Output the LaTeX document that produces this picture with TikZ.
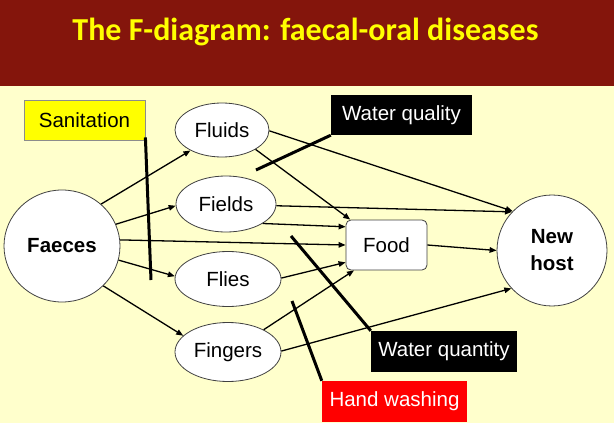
\documentclass[tikz,border=0pt]{standalone}
\usepackage{fontspec}
\setmainfont{Liberation Sans}
\newfontfamily\titlefont{Carlito}
\usetikzlibrary{shapes.geometric,arrows.meta}
\definecolor{bg}{HTML}{FFFFCC}
\definecolor{barred}{HTML}{84150C}
\definecolor{titleyellow}{HTML}{FFFF00}
\definecolor{sanyellow}{HTML}{FFFF00}
\definecolor{handred}{HTML}{FF0000}
\begin{document}
\begin{tikzpicture}[x=1pt,y=-1pt,
  every node/.style={font=\fontsize{20.5}{24}\selectfont},
  ell/.style={ellipse, draw=black!75, line width=0.8pt, fill=white, inner sep=0pt},
  labbox/.style={rectangle, inner sep=0pt},
  arr/.style={-{Triangle[length=7pt,width=5.5pt]}, line width=1.3pt},
  blockline/.style={line width=3pt}]
\useasboundingbox (0,0) rectangle (614,423);
\fill[bg] (0,0) rectangle (614,423);
\fill[barred] (0,0) rectangle (614,86);
\node[font=\titlefont\bfseries\fontsize{32}{36}\selectfont, text=titleyellow, anchor=base, inner sep=0pt] (title) at (305.5,40) {The F-diagram: faecal-oral diseases};

% main nodes
\node[ell, minimum width=116pt, minimum height=112pt, font=\bfseries\fontsize{20.5}{24}\selectfont] (faeces) at (62,246) {Faeces};
\node[ell, minimum width=94pt, minimum height=54pt] (fluids) at (222,130) {Fluids};
\node[ell, minimum width=100pt, minimum height=56pt] (fields) at (226,204) {Fields};
\node[ell, minimum width=106pt, minimum height=55pt] (flies) at (228,279) {Flies};
\node[ell, minimum width=106pt, minimum height=59pt] (fingers) at (228,352) {Fingers};
\node[rectangle, rounded corners=5pt, draw=black!75, line width=0.8pt, fill=white, inner sep=0pt, minimum width=81pt, minimum height=50pt] (food) at (386.5,245) {Food};
\node[ell, minimum width=110pt, minimum height=111pt, align=center, font=\bfseries\fontsize{20.5}{27}\selectfont] (newhost) at (552,250.5) {New\\host};

% barrier boxes
\node[labbox, fill=sanyellow, draw=black!45, line width=0.8pt, minimum width=121pt, minimum height=40pt] (sanitation) at (84.5,120) {Sanitation};
\node[labbox, fill=black, text=white, minimum width=141pt, minimum height=40pt] (wquality) at (401.5,115) {Water quality};
\node[labbox, fill=black, text=white, minimum width=146pt, minimum height=41pt] (wquantity) at (444,351.5) {Water quantity};
\node[labbox, fill=handred, text=white, minimum width=145pt, minimum height=41pt] (handwash) at (394.5,401.5) {Hand washing};

% arrows
\draw[arr] (faeces.47) -- (fluids.213);
\draw[arr] (faeces.22) -- (fields.182);
\draw[arr] (faeces.6) -- (food.west);
\draw[arr] (faeces.-14) -- (flies.177);
\draw[arr] (faeces.-44) -- (fingers.160);
\draw[arr] (fluids.-1) -- (newhost.135);
\draw[arr] (fluids.-30) -- (food.145);
\draw[arr] (fields.-2) -- (newhost.136);
\draw[arr] (fields.-28) -- (food.156);
\draw[arr] (food.east) -- (newhost.180);
\draw[arr] (flies.1) -- (food.203);
\draw[arr] (fingers.32) -- (food.218);
\draw[arr] (fingers.1) -- (newhost.223);

% barrier lines
\coordinate (sanEnd) at (151,280);
\coordinate (wqlEnd) at (256,170);
\coordinate (wqnEnd) at (291,236);
\coordinate (hwEnd) at (292,301);
\draw[blockline] (sanitation.-16) -- (sanEnd);
\draw[blockline] (wquality.south west) -- (wqlEnd);
\draw[blockline] (wquantity.north west) -- (wqnEnd);
\draw[blockline] (handwash.north west) -- (hwEnd);
\end{tikzpicture}
\end{document}
